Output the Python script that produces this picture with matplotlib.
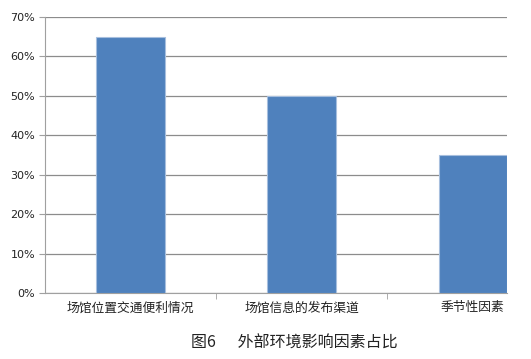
import matplotlib.pyplot as plt
import numpy as np

plt.rcParams['font.family'] = ['DejaVu Sans', 'Noto Sans CJK SC']

categories = ['场馆位置交通便利情况', '场馆信息的发布渠道', '季节性因素']
values = [0.65, 0.50, 0.35]
yticks = [0, 0.1, 0.2, 0.3, 0.4, 0.5, 0.6, 0.7]
ytick_labels = ['0%', '10%', '20%', '30%', '40%', '50%', '60%', '70%']

fig = plt.figure(figsize=(5.31, 3.59), dpi=100)
ax = fig.add_axes([45 / 531, 66 / 359, 462 / 531, 276 / 359])

x = np.arange(len(categories))
ax.bar(x, values, width=0.4, color='#4F81BD', edgecolor='#A7BFDE', linewidth=0.8, zorder=3)

ax.set_xlim(-0.5, 2.2)
ax.set_ylim(0, 0.7)
ax.set_yticks(yticks)
ax.set_yticklabels(ytick_labels, fontsize=8, color='#222222')
ax.yaxis.grid(True, color='#8C8C8C', linewidth=0.9, zorder=0)

ax.set_xticks(x)
ax.set_xticklabels(categories, fontsize=9.2, family=['Noto Sans CJK SC'], color='#222222')
ax.tick_params(axis='x', length=0, pad=6)
ax.set_xticks([0.5, 1.5], minor=True)
ax.tick_params(axis='x', which='minor', length=4, color='#A0A0A0')
ax.tick_params(axis='y', length=4, color='#A0A0A0', pad=3)

for side in ['top', 'right']:
    ax.spines[side].set_visible(False)
ax.spines['left'].set_color('#A0A0A0')
ax.spines['bottom'].set_color('#A0A0A0')

fig.text(294 / 531, 1 - 343 / 359, '图6      外部环境影响因素占比', ha='center', va='center',
         fontsize=11.5, family=['Noto Sans CJK SC'], color='#222222')

fig.savefig('out.png', dpi=100)
